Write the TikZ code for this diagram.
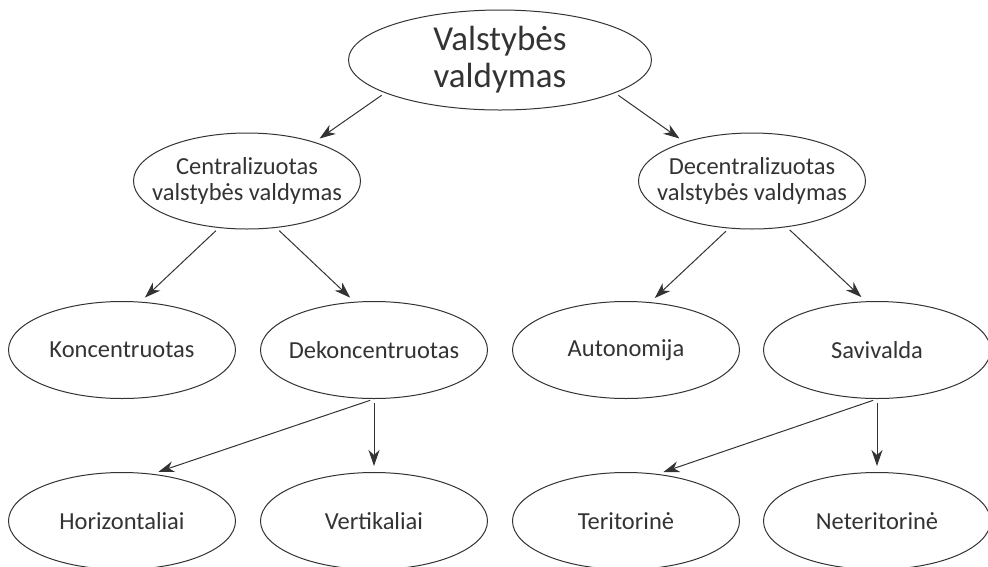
\documentclass[tikz,border=0pt]{standalone}
\usepackage{fontspec}
\setmainfont{Carlito}
\usetikzlibrary{arrows.meta,shapes.geometric}
\definecolor{ink}{HTML}{333333}

\begin{document}
\begin{tikzpicture}[x=1pt,y=-1pt,
  >={Stealth[length=16pt,width=11pt,inset=5pt]},
  ell/.style={draw=ink,ellipse,line width=1pt,minimum width=227pt,minimum height=97pt,inner xsep=-20pt,inner ysep=-10pt,align=center,text=ink,font=\fontsize{24.5}{26}\selectfont},
  arr/.style={->,draw=ink,line width=1pt,shorten <=4pt,shorten >=6pt}]
  \useasboundingbox (0,0) rectangle (988,566);
  \node[ell,minimum width=303pt,minimum height=100pt,font=\fontsize{35}{37}\selectfont] (top) at (500,60) {Valstybės\\valdymas};
  \node[ell,minimum height=96pt] (cent) at (247,181) {Centralizuotas\\valstybės valdymas};
  \node[ell,minimum height=96pt] (dec) at (752,181) {Decentralizuotas\\valstybės valdymas};
  \node[ell] (konc) at (122,350) {Koncentruotas};
  \node[ell] (dekonc) at (374,350) {Dekoncentruotas};
  \node[ell] (auton) at (626,350) {Autonomija};
  \node[ell] (saviv) at (877,350) {Savivalda};
  \node[ell] (horiz) at (122,521) {Horizontaliai};
  \node[ell] (vert) at (374,521) {Vertikaliai};
  \node[ell] (terit) at (626,521) {Teritorinė};
  \node[ell] (neter) at (877,521) {Neteritorinė};
  \draw[arr] (top.196) -- (cent.30);
  \draw[arr] (top.344) -- (dec.150);
  \draw[arr] (cent.239) -- (konc.69);
  \draw[arr] (cent.302) -- (dekonc.112);
  \draw[arr] (dec.244) -- (auton.63);
  \draw[arr] (dec.307) -- (saviv.103);
  \draw[arr] (dekonc.south) -- (horiz.57);
  \draw[arr] (dekonc.south) -- (vert.north);
  \draw[arr] (saviv.south) -- (terit.56);
  \draw[arr] (saviv.south) -- (neter.north);
\end{tikzpicture}
\end{document}
